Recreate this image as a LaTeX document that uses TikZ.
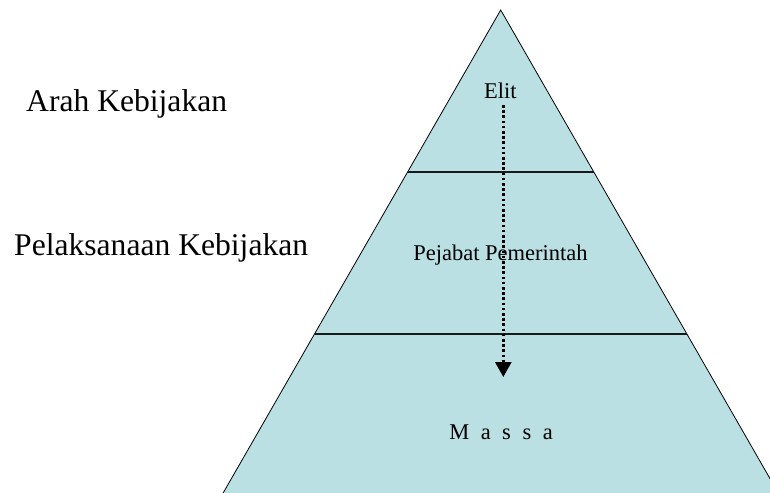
\documentclass[tikz,border=0pt]{standalone}
\usepackage{fontspec}
\setmainfont{Liberation Serif}
\usetikzlibrary{arrows.meta}
\definecolor{pyrfill}{RGB}{186,224,227}
\tikzset{
  smalltxt/.style={font=\fontsize{22.5}{26}\selectfont, inner sep=0pt, anchor=base},
  bigtxt/.style={font=\fontsize{31.6}{36}\selectfont, inner sep=0pt, anchor=base west},
  layerline/.style={line width=1.6pt, draw=black!90},
  sideline/.style={line width=0.8pt, draw=black},
  dotline/.style={line width=2.6pt, dash pattern=on 2.6pt off 2.6pt, -{Triangle[length=15pt,width=16pt]}}
}
\begin{document}
\begin{tikzpicture}[x=1pt,y=-1pt]
\useasboundingbox (0,0) rectangle (770,492);
\begin{scope}
\clip (0,0) rectangle (770,492);
\coordinate (apex) at (500.7,10);
\coordinate (bl) at (219.1,500);
\coordinate (br) at (782.3,500);
\fill[pyrfill] (apex) -- (br) -- (bl) -- cycle;
\draw[sideline] (bl) -- (apex) -- (br);
\end{scope}
\coordinate (l1a) at (407.8,171.7);
\coordinate (l1b) at (593.6,171.7);
\coordinate (l2a) at (314.7,333.7);
\coordinate (l2b) at (686.7,333.7);
\draw[layerline] (l1a) -- (l1b);
\draw[layerline] (l2a) -- (l2b);
\node[smalltxt] (elit) at (500.4,98.3) {Elit};
\node[smalltxt] (pejabat) at (500.5,260) {Pejabat Pemerintah};
\node[smalltxt] (massa) at (501,439) {\spaceskip=11.5pt M a s s a};
\node[bigtxt] (arah) at (26,111) {Arah Kebijakan};
\node[bigtxt] (pelaks) at (14,255) {Pelaksanaan Kebijakan};
\coordinate (arrs) at (503.3,105);
\coordinate (arre) at (503.3,377);
\draw[dotline] (arrs) -- (arre);
\end{tikzpicture}
\end{document}
